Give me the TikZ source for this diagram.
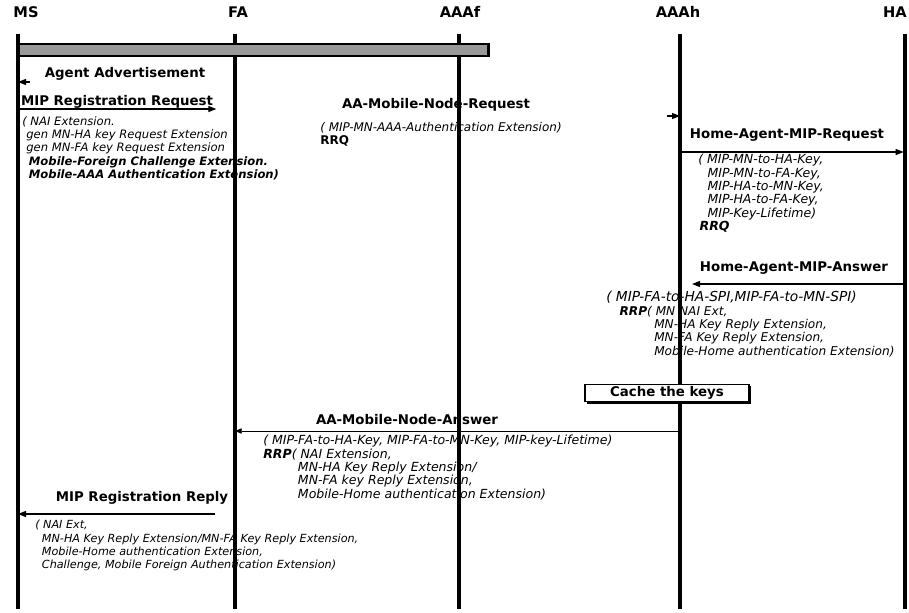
\documentclass[tikz,border=0pt]{standalone}
\usepackage{fontspec}
\setmainfont{DejaVu Sans}
\usetikzlibrary{arrows.meta,shadows}
\tikzset{
  hdr/.style={font=\fontsize{11}{13}\selectfont\bfseries, inner sep=0pt},
  lbl/.style={font=\fontsize{10}{12}\selectfont\bfseries, inner sep=0pt},
  note/.style={font=\fontsize{#1}{10}\selectfont\itshape, align=left,
               anchor=north west, inner sep=0pt},
  note/.default=9,
  life/.style={line width=2.6pt},
  ar/.style={-{Triangle[length=6pt,width=4.5pt]}, line width=0.9pt},
  arthin/.style={-{Triangle[length=5pt,width=4pt]}, line width=0.5pt},
  bar/.style={rectangle, draw=black, fill=black!40, line width=1.8pt,
              minimum width=352pt, minimum height=9pt, inner sep=0pt},
  cache/.style={rectangle, draw=black, fill=white, line width=0.9pt,
                font=\fontsize{10}{12}\selectfont\bfseries,
                minimum width=123pt, minimum height=13pt, inner sep=0pt,
                drop shadow={shadow xshift=1.5pt, shadow yshift=-1.5pt,
                             fill=black, opacity=1}},
}

\begin{document}
\begin{tikzpicture}[x=0.75pt, y=-0.75pt]
  \useasboundingbox (0,0) rectangle (909,612);

  % entities
  \node[hdr] (ms)   at (26,12)  {MS};
  \node[hdr] (fa)   at (238,12) {FA};
  \node[hdr] (aaaf) at (460,12) {AAAf};
  \node[hdr] (aaah) at (678,12) {AAAh};
  \node[hdr] (ha)   at (895,12) {HA};

  \coordinate (lMS)   at (18,34);   \coordinate (bMS)   at (18,609);
  \coordinate (lFA)   at (235,34);  \coordinate (bFA)   at (235,609);
  \coordinate (lAAAf) at (459,34);  \coordinate (bAAAf) at (459,609);
  \coordinate (lAAAh) at (680,34);  \coordinate (bAAAh) at (680,609);
  \coordinate (lHA)   at (905,34);  \coordinate (bHA)   at (905,609);

  % message heights
  \coordinate (yAdv) at (0,82);
  \coordinate (yReq) at (0,109);
  \coordinate (yAAR) at (0,116);
  \coordinate (yHAR) at (0,152);
  \coordinate (yHAA) at (0,284);
  \coordinate (yAAA) at (0,431);
  \coordinate (yRep) at (0,514);

  % labels
  \node[lbl] (advL) at (125,74)  {Agent Advertisement};
  \node[lbl] (reqL) at (117,102) {MIP Registration Request};
  \node[lbl] (aarL) at (436,105) {AA-Mobile-Node-Request};
  \node[lbl] (harL) at (787,135) {Home-Agent-MIP-Request};
  \node[lbl] (haaL) at (794,268) {Home-Agent-MIP-Answer};
  \node[lbl] (aaaL) at (407,420) {AA-Mobile-Node-Answer};
  \node[lbl] (repL) at (142,498) {MIP Registration Reply};

  % parameter notes
  \node[note=8.7] (reqN) at (22,116) {( NAI Extension.\\
    \hspace*{3pt}gen MN-HA key Request Extension\\
    \hspace*{3pt}gen MN-FA key Request Extension\\
    \hspace*{5pt}\bfseries Mobile-Foreign Challenge Extension.\\
    \hspace*{5pt}\bfseries Mobile-AAA Authentication Extension)};
  \node[note=9] (aarN) at (320,122) {( MIP-MN-AAA-Authentication Extension)\\
    \upshape\bfseries RRQ};
  \node[note=9.4] (harN) at (698,154) {( MIP-MN-to-HA-Key,\\
    \hspace*{7pt}MIP-MN-to-FA-Key,\\
    \hspace*{7pt}MIP-HA-to-MN-Key,\\
    \hspace*{7pt}MIP-HA-to-FA-Key,\\
    \hspace*{7pt}MIP-Key-Lifetime)\\
    \hspace*{1pt}\bfseries RRQ};
  \node[note=9.1] (haaN) at (606,291) {{\fontsize{10.3}{10}\selectfont( MIP-FA-to-HA-SPI,MIP-FA-to-MN-SPI)}\\
    \hspace*{10pt}\textbf{RRP}( MN NAI Ext,\\
    \hspace*{36pt}MN-HA Key Reply Extension,\\
    \hspace*{36pt}MN-FA Key Reply Extension,\\
    \hspace*{36pt}Mobile-Home authentication Extension)};
  \node[note=9.4] (aaaN) at (263,435) {( MIP-FA-to-HA-Key, MIP-FA-to-MN-Key, MIP-key-Lifetime)\\
    \textbf{RRP}( NAI Extension,\\
    \hspace*{26pt}MN-HA Key Reply Extension/\\
    \hspace*{26pt}MN-FA key Reply Extension,\\
    \hspace*{26pt}Mobile-Home authentication Extension)};
  \node[note=8.4] (repN) at (35,520) {( NAI Ext,\\
    \hspace*{5pt}MN-HA Key Reply Extension/MN-FA Key Reply Extension,\\
    \hspace*{5pt}Mobile-Home authentication Extension,\\
    \hspace*{5pt}Challenge, Mobile Foreign Authentication Extension)};

  % lifelines
  \draw[life] (lMS) -- (bMS);
  \draw[life] (lFA) -- (bFA);
  \draw[life] (lAAAf) -- (bAAAf);
  \draw[life] (lAAAh) -- (bAAAh);
  \draw[life] (lHA) -- (bHA);

  \node[bar, anchor=west] (advBar) at (18,50) {};

  % messages
  \coordinate (advS) at (30,82);
  \draw[ar] (advS) -- (lMS |- yAdv);
  \draw[ar, shorten >=14pt] (lMS |- yReq) -- (lFA |- yReq);
  \coordinate (aarS) at (667,116);
  \draw[ar] (aarS) -- (lAAAh |- yAAR);
  \draw[ar, shorten >=1pt] (lAAAh |- yHAR) -- (lHA |- yHAR);
  \draw[ar, shorten >=9pt] (lHA |- yHAA) -- (lAAAh |- yHAA);
  \draw[arthin] (lAAAh |- yAAA) -- (lFA |- yAAA);
  \draw[ar, shorten <=15pt] (lFA |- yRep) -- (lMS |- yRep);

  \node[cache] (cache) at (667,393) {Cache the keys};
\end{tikzpicture}
\end{document}
